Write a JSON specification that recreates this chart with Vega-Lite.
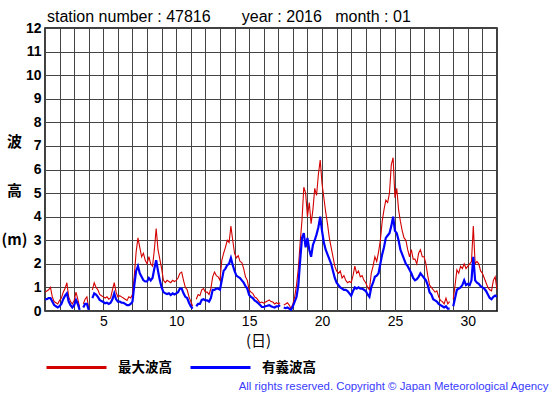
{
  "$schema": "https://vega.github.io/schema/vega-lite/v6.json",
  "width": 452,
  "height": 283,
  "autosize": {"type": "none"},
  "padding": {"left": 45, "top": 28, "right": 58, "bottom": 84},
  "background": "white",
  "title": {
    "text": "station number : 47816\u00a0\u00a0\u00a0\u00a0\u00a0\u00a0\u00a0year : 2016\u00a0\u00a0\u00a0month : 01",
    "anchor": "start",
    "frame": "group",
    "font": "Liberation Sans",
    "fontSize": 16,
    "fontWeight": "normal",
    "color": "#000000",
    "dx": 2,
    "dy": 19,
    "offset": 2,
    "baseline": "alphabetic"
  },
  "data": {
    "values": [
      {"d": 1.0, "max": 0.8, "sig": 0.5}, {"d": 1.125, "max": 0.85, "sig": 0.5}, {"d": 1.25, "max": 0.9, "sig": 0.55}, {"d": 1.375, "max": 1.0, "sig": 0.55},
      {"d": 1.5, "max": 0.6, "sig": 0.4}, {"d": 1.625, "max": 0.4, "sig": 0.25}, {"d": 1.75, "max": 0.35, "sig": 0.2}, {"d": 1.875, "max": 0.3, "sig": 0.15},
      {"d": 2.0, "max": 0.45, "sig": 0.2}, {"d": 2.125, "max": 0.55, "sig": 0.3}, {"d": 2.25, "max": 0.8, "sig": 0.5}, {"d": 2.375, "max": 0.95, "sig": 0.65},
      {"d": 2.5, "max": 1.2, "sig": 0.75}, {"d": 2.625, "max": 0.6, "sig": 0.4}, {"d": 2.75, "max": 0.4, "sig": 0.25}, {"d": 2.875, "max": 0.3, "sig": 0.15},
      {"d": 3.0, "max": 0.45, "sig": 0.25}, {"d": 3.125, "max": 0.8, "sig": 0.47}, {"d": 3.25, "max": 0.5, "sig": 0.3}, {"d": 3.375, "max": 0.15, "sig": 0.05},
      {"d": 3.5, "max": null, "sig": null}, {"d": 3.625, "max": 0.3, "sig": 0.15}, {"d": 3.75, "max": 0.5, "sig": 0.3}, {"d": 3.875, "max": 0.6, "sig": 0.3},
      {"d": 4.0, "max": 0.1, "sig": 0.05}, {"d": 4.125, "max": null, "sig": null}, {"d": 4.25, "max": 0.9, "sig": 0.55}, {"d": 4.375, "max": 1.2, "sig": 0.75},
      {"d": 4.5, "max": 1.0, "sig": 0.7}, {"d": 4.625, "max": 0.9, "sig": 0.6}, {"d": 4.75, "max": 0.7, "sig": 0.47}, {"d": 4.875, "max": 0.65, "sig": 0.42},
      {"d": 5.0, "max": 0.6, "sig": 0.38}, {"d": 5.125, "max": 0.55, "sig": 0.33}, {"d": 5.25, "max": 0.6, "sig": 0.35}, {"d": 5.375, "max": 0.5, "sig": 0.3},
      {"d": 5.5, "max": 0.55, "sig": 0.35}, {"d": 5.625, "max": 0.9, "sig": 0.5}, {"d": 5.75, "max": 1.2, "sig": 0.75}, {"d": 5.875, "max": 0.8, "sig": 0.5},
      {"d": 6.0, "max": 0.6, "sig": 0.4}, {"d": 6.125, "max": 0.65, "sig": 0.4}, {"d": 6.25, "max": 0.6, "sig": 0.35}, {"d": 6.375, "max": 0.55, "sig": 0.35},
      {"d": 6.5, "max": 0.5, "sig": 0.3}, {"d": 6.625, "max": 0.45, "sig": 0.25}, {"d": 6.75, "max": 0.6, "sig": 0.25}, {"d": 6.875, "max": 0.55, "sig": 0.3},
      {"d": 7.0, "max": 0.7, "sig": 0.4}, {"d": 7.125, "max": 1.5, "sig": 1.1}, {"d": 7.25, "max": 2.5, "sig": 1.7}, {"d": 7.375, "max": 3.1, "sig": 1.9},
      {"d": 7.5, "max": 2.7, "sig": 1.6}, {"d": 7.625, "max": 2.3, "sig": 1.45}, {"d": 7.75, "max": 2.45, "sig": 1.3}, {"d": 7.875, "max": 2.15, "sig": 1.25},
      {"d": 8.0, "max": 2.0, "sig": 1.25}, {"d": 8.125, "max": 2.3, "sig": 1.4}, {"d": 8.25, "max": 2.0, "sig": 1.3}, {"d": 8.375, "max": 1.9, "sig": 1.4},
      {"d": 8.5, "max": 2.6, "sig": 1.8}, {"d": 8.625, "max": 3.5, "sig": 2.15}, {"d": 8.75, "max": 2.6, "sig": 1.7}, {"d": 8.875, "max": 2.2, "sig": 1.3},
      {"d": 9.0, "max": 1.8, "sig": 1.0}, {"d": 9.125, "max": 1.3, "sig": 0.8}, {"d": 9.25, "max": 1.2, "sig": 0.75}, {"d": 9.375, "max": 1.3, "sig": 0.72},
      {"d": 9.5, "max": 1.25, "sig": 0.75}, {"d": 9.625, "max": 1.2, "sig": 0.68}, {"d": 9.75, "max": 1.3, "sig": 0.75}, {"d": 9.875, "max": 1.25, "sig": 0.7},
      {"d": 10.0, "max": 1.3, "sig": 0.75}, {"d": 10.125, "max": 1.4, "sig": 0.8}, {"d": 10.25, "max": 1.6, "sig": 0.95}, {"d": 10.375, "max": 1.65, "sig": 0.95},
      {"d": 10.5, "max": 1.3, "sig": 0.75}, {"d": 10.625, "max": 1.0, "sig": 0.6}, {"d": 10.75, "max": 0.9, "sig": 0.55}, {"d": 10.875, "max": 0.6, "sig": 0.35},
      {"d": 11.0, "max": 0.4, "sig": 0.2}, {"d": 11.125, "max": 0.2, "sig": 0.1}, {"d": 11.25, "max": null, "sig": null}, {"d": 11.375, "max": 0.5, "sig": 0.2},
      {"d": 11.5, "max": 0.7, "sig": 0.3}, {"d": 11.625, "max": 0.65, "sig": 0.3}, {"d": 11.75, "max": 0.9, "sig": 0.47}, {"d": 11.875, "max": 0.95, "sig": 0.5},
      {"d": 12.0, "max": 0.8, "sig": 0.45}, {"d": 12.125, "max": 0.8, "sig": 0.45}, {"d": 12.25, "max": 0.7, "sig": 0.4}, {"d": 12.375, "max": 0.95, "sig": 0.55},
      {"d": 12.5, "max": 1.45, "sig": 0.9}, {"d": 12.625, "max": 1.65, "sig": 0.9}, {"d": 12.75, "max": 1.5, "sig": 0.95}, {"d": 12.875, "max": 1.45, "sig": 0.95},
      {"d": 13.0, "max": 1.3, "sig": 0.9}, {"d": 13.125, "max": 2.15, "sig": 1.3}, {"d": 13.25, "max": 2.45, "sig": 1.7}, {"d": 13.375, "max": 2.7, "sig": 1.8},
      {"d": 13.5, "max": 3.0, "sig": 1.95}, {"d": 13.625, "max": 2.9, "sig": 2.0}, {"d": 13.75, "max": 3.6, "sig": 2.25}, {"d": 13.875, "max": 3.0, "sig": 1.95},
      {"d": 14.0, "max": 2.45, "sig": 1.7}, {"d": 14.125, "max": 2.25, "sig": 1.5}, {"d": 14.25, "max": 2.35, "sig": 1.45}, {"d": 14.375, "max": 2.1, "sig": 1.4},
      {"d": 14.5, "max": 2.05, "sig": 1.3}, {"d": 14.625, "max": 1.8, "sig": 1.2}, {"d": 14.75, "max": 1.45, "sig": 1.05}, {"d": 14.875, "max": 1.3, "sig": 0.95},
      {"d": 15.0, "max": 0.9, "sig": 0.68}, {"d": 15.125, "max": 0.8, "sig": 0.6}, {"d": 15.25, "max": 0.75, "sig": 0.55}, {"d": 15.375, "max": 0.6, "sig": 0.45},
      {"d": 15.5, "max": 0.55, "sig": 0.4}, {"d": 15.625, "max": 0.45, "sig": 0.33}, {"d": 15.75, "max": 0.35, "sig": 0.25}, {"d": 15.875, "max": 0.38, "sig": 0.17},
      {"d": 16.0, "max": 0.33, "sig": 0.17}, {"d": 16.125, "max": 0.38, "sig": 0.2}, {"d": 16.25, "max": 0.42, "sig": 0.22}, {"d": 16.375, "max": 0.47, "sig": 0.25},
      {"d": 16.5, "max": 0.4, "sig": 0.2}, {"d": 16.625, "max": 0.38, "sig": 0.17}, {"d": 16.75, "max": 0.3, "sig": 0.15}, {"d": 16.875, "max": 0.35, "sig": 0.2},
      {"d": 17.0, "max": 0.3, "sig": 0.2}, {"d": 17.125, "max": 0.35, "sig": 0.25}, {"d": 17.25, "max": null, "sig": null}, {"d": 17.375, "max": 0.25, "sig": 0.15},
      {"d": 17.5, "max": 0.3, "sig": 0.12}, {"d": 17.625, "max": 0.35, "sig": 0.15}, {"d": 17.75, "max": 0.25, "sig": 0.1}, {"d": 17.875, "max": 0.1, "sig": 0.05},
      {"d": 18.0, "max": 0.3, "sig": 0.2}, {"d": 18.125, "max": 0.6, "sig": 0.4}, {"d": 18.25, "max": 1.1, "sig": 0.6}, {"d": 18.375, "max": 1.8, "sig": 1.1},
      {"d": 18.5, "max": 2.9, "sig": 2.15}, {"d": 18.625, "max": 3.85, "sig": 3.1}, {"d": 18.75, "max": 5.25, "sig": 3.3}, {"d": 18.875, "max": 5.0, "sig": 2.7},
      {"d": 19.0, "max": 4.0, "sig": 3.1}, {"d": 19.125, "max": 4.6, "sig": 2.6}, {"d": 19.25, "max": 3.7, "sig": 2.3}, {"d": 19.375, "max": 4.3, "sig": 2.8},
      {"d": 19.5, "max": 5.2, "sig": 3.0}, {"d": 19.625, "max": 4.9, "sig": 3.25}, {"d": 19.75, "max": 5.8, "sig": 3.55}, {"d": 19.875, "max": 6.4, "sig": 4.0},
      {"d": 20.0, "max": 5.4, "sig": 3.4}, {"d": 20.125, "max": 4.8, "sig": 2.9}, {"d": 20.25, "max": 4.2, "sig": 2.6}, {"d": 20.375, "max": 3.7, "sig": 2.4},
      {"d": 20.5, "max": 3.1, "sig": 2.2}, {"d": 20.625, "max": 2.7, "sig": 2.0}, {"d": 20.75, "max": 2.3, "sig": 1.7}, {"d": 20.875, "max": 1.9, "sig": 1.4},
      {"d": 21.0, "max": 1.7, "sig": 1.2}, {"d": 21.125, "max": 1.6, "sig": 1.1}, {"d": 21.25, "max": 1.7, "sig": 1.0}, {"d": 21.375, "max": 1.4, "sig": 0.95},
      {"d": 21.5, "max": 1.5, "sig": 0.9}, {"d": 21.625, "max": 1.3, "sig": 0.9}, {"d": 21.75, "max": 1.2, "sig": 0.85}, {"d": 21.875, "max": 1.25, "sig": 0.75},
      {"d": 22.0, "max": 1.2, "sig": 0.65}, {"d": 22.125, "max": 1.5, "sig": 0.85}, {"d": 22.25, "max": 1.9, "sig": 1.0}, {"d": 22.375, "max": 1.6, "sig": 0.95},
      {"d": 22.5, "max": 1.7, "sig": 1.0}, {"d": 22.625, "max": 1.45, "sig": 0.95}, {"d": 22.75, "max": 1.5, "sig": 0.95}, {"d": 22.875, "max": 1.3, "sig": 0.9},
      {"d": 23.0, "max": 1.2, "sig": 0.85}, {"d": 23.125, "max": 1.0, "sig": 0.7}, {"d": 23.25, "max": 0.9, "sig": 0.6}, {"d": 23.375, "max": 1.6, "sig": 1.0},
      {"d": 23.5, "max": 1.9, "sig": 1.2}, {"d": 23.625, "max": 2.3, "sig": 1.45}, {"d": 23.75, "max": 2.1, "sig": 1.5}, {"d": 23.875, "max": 2.5, "sig": 1.6},
      {"d": 24.0, "max": 3.0, "sig": 2.0}, {"d": 24.125, "max": 3.8, "sig": 2.4}, {"d": 24.25, "max": 4.3, "sig": 2.7}, {"d": 24.375, "max": 4.7, "sig": 3.1},
      {"d": 24.5, "max": 4.6, "sig": 3.2}, {"d": 24.625, "max": 5.0, "sig": 3.3}, {"d": 24.75, "max": 6.2, "sig": 3.6}, {"d": 24.875, "max": 6.5, "sig": 4.0},
      {"d": 25.0, "max": 4.8, "sig": 3.4}, {"d": 25.125, "max": 5.2, "sig": 3.3}, {"d": 25.25, "max": 4.3, "sig": 3.0}, {"d": 25.375, "max": 3.8, "sig": 2.6},
      {"d": 25.5, "max": 3.4, "sig": 2.4}, {"d": 25.625, "max": 3.1, "sig": 2.2}, {"d": 25.75, "max": 3.0, "sig": 2.0}, {"d": 25.875, "max": 2.6, "sig": 1.9},
      {"d": 26.0, "max": 2.3, "sig": 1.75}, {"d": 26.125, "max": 2.6, "sig": 1.6}, {"d": 26.25, "max": 2.2, "sig": 1.4}, {"d": 26.375, "max": 2.2, "sig": 1.3},
      {"d": 26.5, "max": 2.0, "sig": 1.35}, {"d": 26.625, "max": 2.45, "sig": 1.45}, {"d": 26.75, "max": 2.6, "sig": 1.6}, {"d": 26.875, "max": 2.3, "sig": 1.5},
      {"d": 27.0, "max": 2.3, "sig": 1.4}, {"d": 27.125, "max": 2.0, "sig": 1.3}, {"d": 27.25, "max": 1.5, "sig": 1.1}, {"d": 27.375, "max": 1.1, "sig": 0.8},
      {"d": 27.5, "max": 1.0, "sig": 0.7}, {"d": 27.625, "max": 0.9, "sig": 0.5}, {"d": 27.75, "max": 0.8, "sig": 0.45}, {"d": 27.875, "max": 0.85, "sig": 0.4},
      {"d": 28.0, "max": 0.6, "sig": 0.3}, {"d": 28.125, "max": 0.45, "sig": 0.25}, {"d": 28.25, "max": 0.4, "sig": 0.2}, {"d": 28.375, "max": 0.3, "sig": 0.15},
      {"d": 28.5, "max": 0.55, "sig": 0.2}, {"d": 28.625, "max": 0.3, "sig": 0.1}, {"d": 28.75, "max": 0.4, "sig": 0.1}, {"d": 28.875, "max": null, "sig": null},
      {"d": 29.0, "max": 0.5, "sig": 0.2}, {"d": 29.125, "max": 1.1, "sig": 0.55}, {"d": 29.25, "max": 1.75, "sig": 0.9}, {"d": 29.375, "max": 1.6, "sig": 0.95},
      {"d": 29.5, "max": 1.9, "sig": 1.0}, {"d": 29.625, "max": 1.8, "sig": 1.1}, {"d": 29.75, "max": 2.0, "sig": 1.3}, {"d": 29.875, "max": 1.8, "sig": 1.1},
      {"d": 30.0, "max": 1.9, "sig": 1.15}, {"d": 30.125, "max": 2.0, "sig": 1.1}, {"d": 30.25, "max": 2.1, "sig": 1.3}, {"d": 30.375, "max": 3.6, "sig": 2.3},
      {"d": 30.5, "max": 2.0, "sig": 1.3}, {"d": 30.625, "max": 2.1, "sig": 1.2}, {"d": 30.75, "max": 2.0, "sig": 1.15}, {"d": 30.875, "max": 1.7, "sig": 1.05},
      {"d": 31.0, "max": 1.6, "sig": 1.0}, {"d": 31.125, "max": 1.4, "sig": 0.95}, {"d": 31.25, "max": 1.2, "sig": 0.85}, {"d": 31.375, "max": 1.0, "sig": 0.7},
      {"d": 31.5, "max": 0.9, "sig": 0.55}, {"d": 31.625, "max": 0.85, "sig": 0.5}, {"d": 31.75, "max": 1.3, "sig": 0.6}, {"d": 31.875, "max": 1.45, "sig": 0.65},
      {"d": 32.0, "max": 0.9, "sig": 0.6}
    ]
  },
  "transform": [{"fold": ["max", "sig"], "as": ["type", "value"]}],
  "encoding": {
    "y": {
      "field": "value",
      "type": "quantitative",
      "scale": {"domain": [0, 12], "nice": false},
      "axis": {
        "values": [0,1,2,3,4,5,6,7,8,9,10,11,12],
        "labelFont": "Liberation Sans",
        "labelFontSize": 14,
        "labelFontWeight": "bold",
        "labelColor": "#000000",
        "labelPadding": 4,
        "labelFlush": false,
        "labelOverlap": false,
        "labelBound": false,
        "ticks": false,
        "tickSize": 0,
        "domain": false,
        "grid": true,
        "gridColor": "#444444",
        "gridWidth": 1,
        "gridOpacity": 1,
        "title": ["波", "高", "(m)"],
        "titleFont": "Noto Sans CJK JP",
        "titleFontSize": 15,
        "titleFontWeight": "bold",
        "titleColor": "#000000",
        "titleAngle": 0,
        "titleLineHeight": 49,
        "titleX": -31,
        "titleY": 113,
        "titleAlign": "center",
        "titleBaseline": "middle"
      }
    }
  },
  "layer": [
    {
      "transform": [{"filter": "datum.type == 'max'"}],
      "mark": {"type": "line", "invalid": "break-paths-show-domains", "clip": true, "strokeWidth": 1.1},
      "encoding": {
        "x": {
          "field": "d",
          "type": "quantitative",
          "scale": {"domain": [1, 32], "nice": false, "zero": false},
          "axis": {
            "values": [1,2,3,4,5,6,7,8,9,10,11,12,13,14,15,16,17,18,19,20,21,22,23,24,25,26,27,28,29,30,31,32],
            "labelExpr": "datum.value % 5 == 0 ? datum.label : ''",
            "labelOverlap": false,
            "labelFlush": false,
            "labelBound": false,
            "labelFont": "Liberation Sans",
            "labelFontSize": 14,
            "labelColor": "#000000",
            "labelPadding": 3,
            "ticks": false,
            "tickSize": 0,
            "domain": false,
            "grid": true,
            "gridColor": "#444444",
            "gridWidth": 1,
            "gridOpacity": 1,
            "title": "(日)",
            "titleFont": "Noto Sans CJK JP",
            "titleFontSize": 15,
            "titleFontWeight": "normal",
            "titleColor": "#000000",
            "titleX": 213,
            "titleY": 29,
            "titleAlign": "center",
            "titleBaseline": "middle"
          }
        },
        "color": {
          "field": "type",
          "type": "nominal",
          "scale": {"domain": ["max", "sig"], "range": ["#d40000", "#0000ff"]},
          "legend": {
            "orient": "none",
            "legendX": 0,
            "legendY": 308,
            "direction": "horizontal",
            "title": null,
            "symbolType": "stroke",
            "symbolSize": 3600,
            "symbolStrokeWidth": 3,
            "labelExpr": "datum.label == 'max' ? '最大波高' : '有義波高'",
            "labelFont": "Noto Sans CJK JP",
            "labelFontSize": 13.5,
            "labelFontWeight": "bold",
            "labelColor": "#000000",
            "labelOffset": 10,
            "columnPadding": 12,
            "padding": 0
          }
        }
      }
    },
    {
      "transform": [{"filter": "datum.type == 'sig'"}],
      "mark": {"type": "line", "invalid": "break-paths-show-domains", "clip": true, "strokeWidth": 2.2},
      "encoding": {
        "x": {"field": "d", "type": "quantitative", "axis": null},
        "color": {"field": "type", "type": "nominal"}
      }
    },
    {
      "mark": {"type": "rule", "opacity": 0},
      "encoding": {
        "y": {"field": "value", "type": "quantitative", "aggregate": "min"},
        "x": {
          "field": "d",
          "type": "quantitative",
          "aggregate": "min",
          "axis": {
            "orient": "bottom",
            "labels": false,
            "ticks": false,
            "domain": false,
            "grid": false,
            "title": "All rights reserved. Copyright © Japan Meteorological Agency",
            "titleFont": "Liberation Sans",
            "titleFontSize": 11.4,
            "titleFontWeight": "normal",
            "titleColor": "#3a3aff",
            "titleX": 503,
            "titleY": 75,
            "titleAlign": "right",
            "titleBaseline": "middle"
          }
        }
      }
    }
  ],
  "resolve": {"axis": {"x": "independent"}},
  "config": {
    "view": {"stroke": "#000000", "strokeWidth": 1.5},
    "font": "Liberation Sans"
  }
}
